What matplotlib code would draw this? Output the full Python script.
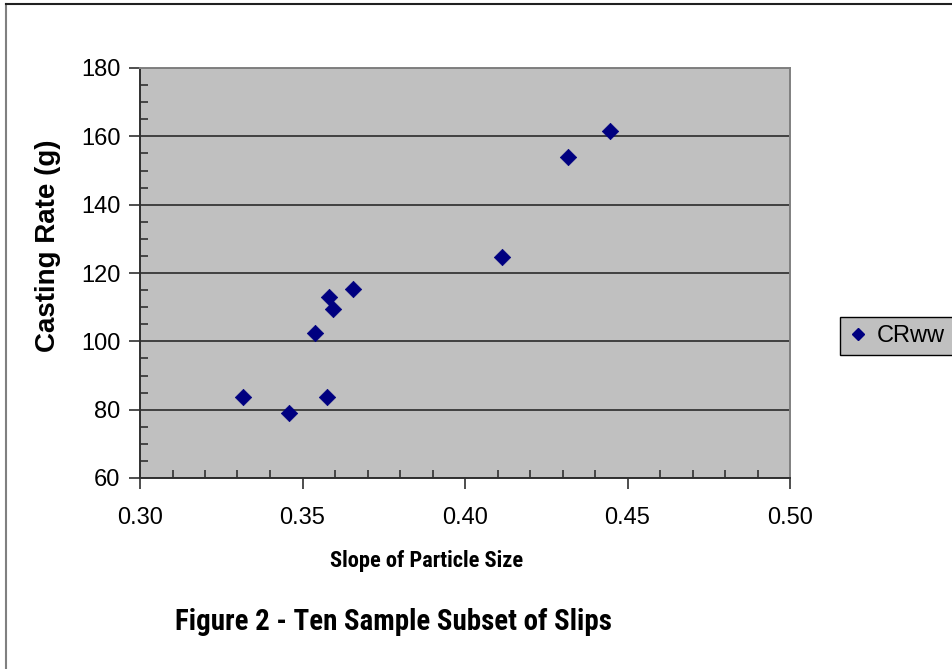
import matplotlib
matplotlib.use("Agg")
import matplotlib.pyplot as plt
from matplotlib.ticker import MultipleLocator, FormatStrFormatter
from matplotlib.lines import Line2D
from matplotlib import font_manager

slope = [0.3317, 0.3458, 0.3575, 0.3538, 0.3582, 0.3594, 0.3655, 0.4114, 0.4317, 0.4446]
casting_rate = [83.7, 79.0, 83.7, 102.4, 113.0, 109.5, 115.3, 124.7, 154.0, 161.6]
series_name = "CRww"
x_label = "Slope of Particle Size"
y_label = "Casting Rate (g)"
caption = "Figure 2 - Ten Sample Subset of Slips"

plt.rcParams['font.family'] = ['Liberation Sans', 'DejaVu Sans']

bold_names = {f.name for f in font_manager.fontManager.ttflist
              if (f.weight in ('bold', 700) or str(f.weight) == '700') and f.style == 'normal'}
narrow = 'Liberation Sans'
for cand in ['Liberation Sans Narrow', 'Arimo Narrow', 'Roboto Condensed',
             'Open Sans Condensed', 'Barlow Semi Condensed', 'Barlow Condensed', 'Asap Condensed']:
    if cand in bold_names:
        narrow = cand
        break

fig = plt.figure(figsize=(9.52, 6.69), dpi=100)
ax = fig.add_axes([140/952, 1-478/669, 650/952, 410/669])
ax.set_facecolor('#C0C0C0')

ax.set_xlim(0.30, 0.50)
ax.set_ylim(60, 180)
ax.xaxis.set_major_locator(MultipleLocator(0.05))
ax.xaxis.set_minor_locator(MultipleLocator(0.01))
ax.yaxis.set_major_locator(MultipleLocator(20))
ax.yaxis.set_minor_locator(MultipleLocator(5))
ax.xaxis.set_major_formatter(FormatStrFormatter('%.2f'))

ax.grid(True, which='major', axis='y', color='#404040', linewidth=1.4)
ax.set_axisbelow(True)

ax.tick_params(which='major', direction='out', length=8, width=1.2, color='#303030',
               labelsize=17, colors='black')
ax.tick_params(which='minor', direction='in', length=6, width=1.2, color='#303030')
ax.tick_params(axis='x', which='major', pad=13)
ax.tick_params(axis='y', which='major', pad=6)

for s in ['left', 'bottom']:
    ax.spines[s].set_color('#303030')
    ax.spines[s].set_linewidth(1.4)
for s in ['top', 'right']:
    ax.spines[s].set_color('#808080')
    ax.spines[s].set_linewidth(1.4)

ax.scatter(slope, casting_rate, marker='D', s=70, color='#000080', zorder=3,
           edgecolors='#000080', linewidths=0.5, clip_on=False)

fig.text(48/952, 1-246/669, y_label, fontsize=20, fontweight='bold', rotation=90,
         ha='center', va='center')

t_x = fig.text(427/952, 1-561/669, x_label, fontsize=16, fontweight='bold',
               ha='center', va='center', family=[narrow, 'Liberation Sans'])
t_c = fig.text(393/952, 1-622/669, caption, fontsize=23, fontweight='bold',
               ha='center', va='center', family=[narrow, 'Liberation Sans'])

renderer = fig.canvas.get_renderer()
for t, target in [(t_x, 193), (t_c, 437)]:
    w = t.get_window_extent(renderer).width
    t.set_fontsize(t.get_fontsize() * target / w)

handle = Line2D([], [], marker='D', linestyle='None', color='#000080', markersize=6)
leg = fig.legend([handle], [series_name], loc='center left',
                 bbox_to_anchor=(840/952, 1-336/669), fontsize=17, frameon=True,
                 fancybox=False, framealpha=1, edgecolor='black', facecolor='#C0C0C0',
                 handlelength=0.8, handletextpad=0.4, borderpad=0.35, borderaxespad=0)
leg.get_frame().set_linewidth(1.0)

fig.add_artist(Line2D([6/952, 6/952], [0, 1-4/669], transform=fig.transFigure,
                      color='#808080', linewidth=1.5))
fig.add_artist(Line2D([6/952, 1], [1-4/669, 1-4/669], transform=fig.transFigure,
                      color='#202020', linewidth=1.5))

fig.savefig('out.png', dpi=100)
